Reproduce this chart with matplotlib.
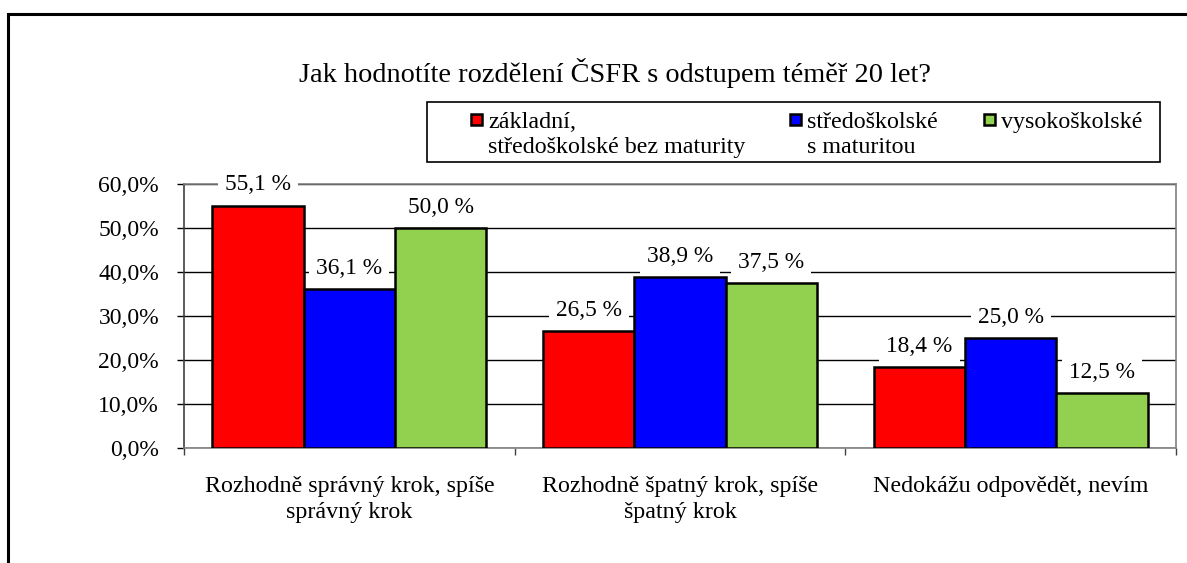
import numpy as np
import matplotlib
matplotlib.use("Agg")
import matplotlib.pyplot as plt
from matplotlib.patches import Rectangle
from matplotlib.ticker import FuncFormatter

# ---------------- DATA ----------------
categories = ["Rozhodně správný krok, spíše\nsprávný krok",
              "Rozhodně špatný krok, spíše\nšpatný krok",
              "Nedokážu odpovědět, nevím"]
series_names = ["základní,\nstředoškolské bez maturity",
                "středoškolské\ns maturitou",
                "vysokoškolské"]
zakladni = [55.1, 26.5, 18.4]
stredo_mat = [36.1, 38.9, 25.0]
vysoko = [50.0, 37.5, 12.5]
title = "Jak hodnotíte rozdělení ČSFR s odstupem téměř 20 let?"

colors = ["#FF0000", "#0000FF", "#92D050"]

plt.rcParams["font.family"] = ["Liberation Serif", "DejaVu Serif"]

W, H = 1187, 563
fig = plt.figure(figsize=(W / 100, H / 100), dpi=100)


def fx(px):
    return px / W


def fy(py):
    return 1 - py / H


# plot area
ax = fig.add_axes([fx(184), fy(448), fx(1176) - fx(184), fy(184) - fy(448)])

x = np.arange(len(categories))
w = 0.276
for i, vals in enumerate([zakladni, stredo_mat, vysoko]):
    pos = x + (i - 1) * w
    bars = ax.bar(pos, vals, width=w, color=colors[i], edgecolor="black",
                  linewidth=1.8, zorder=3)
    for b, v in zip(bars, vals):
        ax.annotate(f"{v:.1f} %".replace(".", ","),
                    (b.get_x() + b.get_width() / 2, v),
                    xytext=(0, 15), textcoords="offset points",
                    ha="center", va="center", fontsize=16.8, zorder=4,
                    bbox=dict(boxstyle="square,pad=0.3", fc="white", ec="none"))

ax.set_xlim(-0.5, 2.5)
ax.set_ylim(0, 60)
ax.set_yticks(np.arange(0, 61, 10))
ax.yaxis.set_major_formatter(FuncFormatter(lambda v, p: f"{v:.1f}%".replace(".", ",")))
ax.yaxis.grid(True, color="black", linewidth=1.0, zorder=0)
ax.set_axisbelow(True)

ax.set_xticks(x)
ax.set_xticklabels(categories, fontsize=17.3, linespacing=1.32)
ax.set_xticks([-0.5, 0.5, 1.5, 2.5], minor=True)
ax.tick_params(axis="x", which="major", length=0, pad=20)
ax.tick_params(axis="x", which="minor", length=5, width=1, color="#404040", direction="out")
ax.tick_params(axis="y", length=5, width=1, color="black", pad=13, labelsize=17)

for s in ax.spines.values():
    s.set_color("#808080")
    s.set_linewidth(1.2)
ax.spines["left"].set_color("#404040")

# title
fig.text(fx(299), fy(73), title, ha="left", va="center", fontsize=20.4)

# legend (drawn by hand so the square sits beside the first line)
fig.add_artist(Rectangle((fx(427), fy(162)), fx(1160) - fx(427), fy(102) - fy(162),
                         transform=fig.transFigure, fill=False, ec="black", lw=1.2))
leg_x = [471, 790, 984]
for i, name in enumerate(series_names):
    fig.add_artist(Rectangle((fx(leg_x[i]), fy(125)), fx(11), fy(114) - fy(125),
                             transform=fig.transFigure, fc=colors[i], ec="black", lw=1.8))
    fig.text(fx(leg_x[i] + 17), fy(112), name, ha="left", va="top",
             fontsize=17.3, linespacing=1.22)

# outer frame of the chart
fig.add_artist(Rectangle((fx(8), fy(H + 50)), fx(W + 50), fy(14) - fy(H + 50),
                         transform=fig.transFigure, fill=False, ec="black", lw=2.2))

fig.savefig("out.png", dpi=100)
